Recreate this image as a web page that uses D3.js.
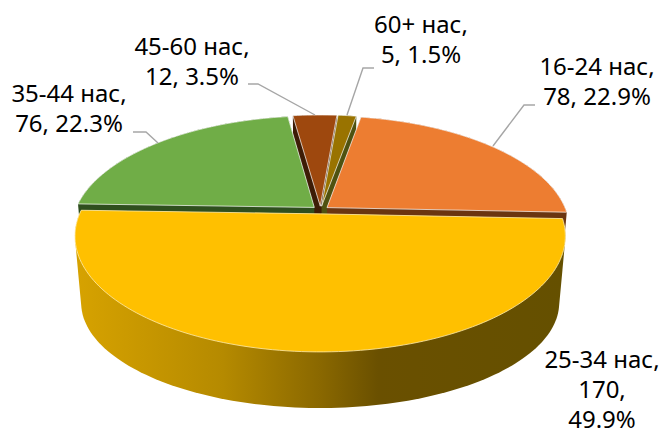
<!DOCTYPE html>
<html><head><meta charset="utf-8">
<script src="https://cdnjs.cloudflare.com/ajax/libs/d3/7.8.5/d3.min.js"></script>
<style>html,body{margin:0;padding:0;background:#fff}svg{display:block}</style>
</head><body><svg id="c" width="662" height="435"></svg>
<script>
const categories = ["16-24 нас","25-34 нас","35-44 нас","45-60 нас","60+ нас"];
const values = [78,170,76,12,5];
const percents = ["22.9%","49.9%","22.3%","3.5%","1.5%"];
const colors = ["#ED7D31","#FFC000","#70AD47","#9E480E","#997300"];
const wallColors = ["#6b3510","#b08500","#2f4f1e","#3d1c06","#4f5210"];
const labelLines = [["16-24 нас,","78, 22.9%"],["25-34 нас,","170,","49.9%"],["35-44 нас,","76, 22.3%"],["45-60 нас,","12, 3.5%"],["60+ нас,","5, 1.5%"]];
const labelPos = [[597,75],[602,368],[69,102],[192,55],[421,33]];
const labelStep = 30;
const leaders = [[[493,146],[524,105],[535,105]],null,[[158,143],[146,132],[133,132]],[[315,115],[258,84],[248,84]],[[347,115],[363,68],[374,68]]];

const svg = d3.select("#c");
const ROT = 2.4*Math.PI/180, EXPL = 0.035, K = 0.191;
const start = Math.PI/2 - 2*Math.PI*78/341 + ROT;
const pie = d3.pie().sort(null).startAngle(start).endAngle(start + 2*Math.PI);
const arcs = pie(values);

function projector(cx,cy,A,B){
  return (u,v)=>{const w=1-K*v;return [cx+A*u/w, cy+B*v/w];};
}
const topP = projector(320.5,210,239,110);
const botP = projector(320.5,279,233,100);

function slicePts(d,P){
  const mid=(d.startAngle+d.endAngle)/2, ox=EXPL*Math.sin(mid), oy=-EXPL*Math.cos(mid);
  const n=Math.max(6,Math.ceil((d.endAngle-d.startAngle)*40));
  const pts=[P(ox,oy)];
  d3.range(n+1).forEach(i=>{
    const a=d.startAngle+(d.endAngle-d.startAngle)*i/n;
    pts.push(P(ox+Math.sin(a),oy-Math.cos(a)));
  });
  return pts;
}
const line=d3.line().curve(d3.curveLinearClosed);

const defs=svg.append("defs");
const g=defs.append("linearGradient").attr("id","wall").attr("gradientUnits","userSpaceOnUse")
  .attr("x1",78).attr("x2",562).attr("y1",0).attr("y2",0);
[[0,"#d6a200"],[0.3,"#b58a00"],[0.5,"#8a6800"],[0.62,"#6a5000"],[1,"#655000"]].forEach(s=>g.append("stop").attr("offset",s[0]).attr("stop-color",s[1]));

const edge="rgba(255,255,255,0.7)";
[3,4,0,2].forEach(i=>{
  const hull=d3.polygonHull(slicePts(arcs[i],topP).concat(slicePts(arcs[i],botP)));
  svg.append("path").attr("d",line(hull)).attr("fill",wallColors[i]);
});
[0,2,3,4].forEach(i=>{
  svg.append("path").attr("d",line(slicePts(arcs[i],topP))).attr("fill",colors[i]).attr("stroke",edge).attr("stroke-width",1);
});
const yHull=d3.polygonHull(slicePts(arcs[1],topP).concat(slicePts(arcs[1],botP)));
svg.append("path").attr("d",line(yHull)).attr("fill","url(#wall)");
svg.append("path").attr("d",line(slicePts(arcs[1],topP))).attr("fill",colors[1]).attr("stroke","rgba(255,235,170,0.8)").attr("stroke-width",1);

leaders.forEach(l=>{ if(!l) return;
  svg.append("path").attr("d",d3.line()(l)).attr("fill","none").attr("stroke","#a6a6a6").attr("stroke-width",1.4);
});
labelLines.forEach((ls,i)=>{
  const t=svg.append("text").attr("text-anchor","middle").attr("font-family","'Noto Sans'").attr("font-size",24).attr("fill","#000");
  ls.forEach((s,j)=>t.append("tspan").attr("x",labelPos[i][0]).attr("y",labelPos[i][1]+j*labelStep).text(s));
});
</script></body></html>
